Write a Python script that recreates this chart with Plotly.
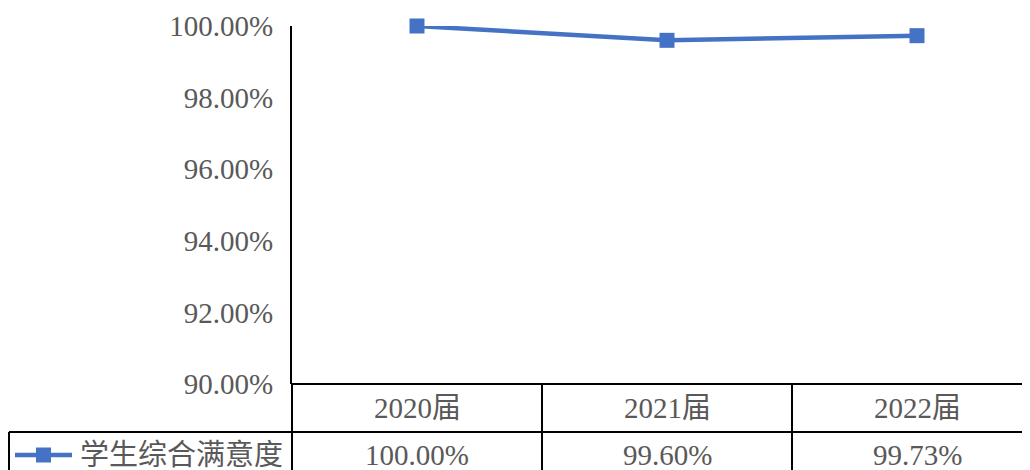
import plotly.graph_objects as go

categories = ["2020届", "2021届", "2022届"]
values = [1.0000, 0.9960, 0.9973]
series_name = "学生综合满意度"
y_ticks = [0.90, 0.92, 0.94, 0.96, 0.98, 1.00]

W, H = 1030, 470
OFF = 8  # page body margin offset
BLUE = "#4472C4"
GRAY = "#595959"
FONT = "Times New Roman, Liberation Serif, Noto Sans CJK SC, serif"
FS = 29


def px(x):
    return (x - OFF) / W


def py(y):
    return 1 - (y - OFF) / H


fig = go.Figure()
fig.add_trace(go.Scatter(
    x=categories, y=values, mode="lines+markers",
    line=dict(color=BLUE, width=4.5),
    marker=dict(symbol="square", size=15, color=BLUE),
    cliponaxis=False, showlegend=False, name=series_name,
))

shapes = []
def hline(x0, x1, y, w=2):
    shapes.append(dict(type="line", xref="paper", yref="paper",
                       x0=px(x0), x1=px(x1), y0=py(y), y1=py(y),
                       line=dict(color="black", width=w)))
def vline(x, y0, y1, w=2):
    shapes.append(dict(type="line", xref="paper", yref="paper",
                       x0=px(x), x1=px(x), y0=py(y0), y1=py(y1),
                       line=dict(color="black", width=w)))

# table grid
hline(292, 1038, 384)
hline(9, 1038, 432)
vline(292, 384, 478)
vline(9, 432, 478)
vline(542, 384, 478)
vline(792, 384, 478)

# legend key
shapes.append(dict(type="line", xref="paper", yref="paper",
                   x0=px(15), x1=px(72), y0=py(455), y1=py(455),
                   line=dict(color=BLUE, width=4.5)))
shapes.append(dict(type="rect", xref="paper", yref="paper",
                   x0=px(36), x1=px(51), y0=py(447.5), y1=py(462.5),
                   fillcolor=BLUE, line=dict(width=0)))

annotations = []
for c, v in zip(categories, values):
    annotations.append(dict(x=c, xref="x", y=py(408), yref="paper",
                            text=c, showarrow=False,
                            xanchor="center", yanchor="middle",
                            font=dict(size=FS, color=GRAY, family=FONT)))
    annotations.append(dict(x=c, xref="x", y=py(455), yref="paper",
                            text=f"{v:.2%}", showarrow=False,
                            xanchor="center", yanchor="middle",
                            font=dict(size=FS, color=GRAY, family=FONT)))
annotations.append(dict(x=px(78), xref="paper", y=py(455), yref="paper",
                        text=series_name, showarrow=False,
                        xanchor="left", yanchor="middle",
                        font=dict(size=FS, color=GRAY, family=FONT)))

x_right = -0.5 + (W + OFF - 292) / 250.0

fig.update_layout(
    width=W, height=H,
    margin=dict(l=0, r=0, t=0, b=0, pad=0, autoexpand=False),
    paper_bgcolor="white", plot_bgcolor="white",
    shapes=shapes, annotations=annotations,
    font=dict(family=FONT, color=GRAY, size=FS),
    xaxis=dict(type="category", range=[-0.5, x_right], domain=[px(292), 1],
               showticklabels=False, showgrid=False, showline=False,
               zeroline=False, ticks="", automargin=False),
    yaxis=dict(range=[0.90, 1.00], domain=[py(384), py(26)],
               tickvals=y_ticks, tickformat=".2%",
               showline=True, linecolor="black", linewidth=2,
               showgrid=False, zeroline=False, ticks="",
               ticklabelstandoff=11, automargin=False,
               tickfont=dict(size=FS, color=GRAY, family=FONT)),
)

fig.write_html("out.html")
